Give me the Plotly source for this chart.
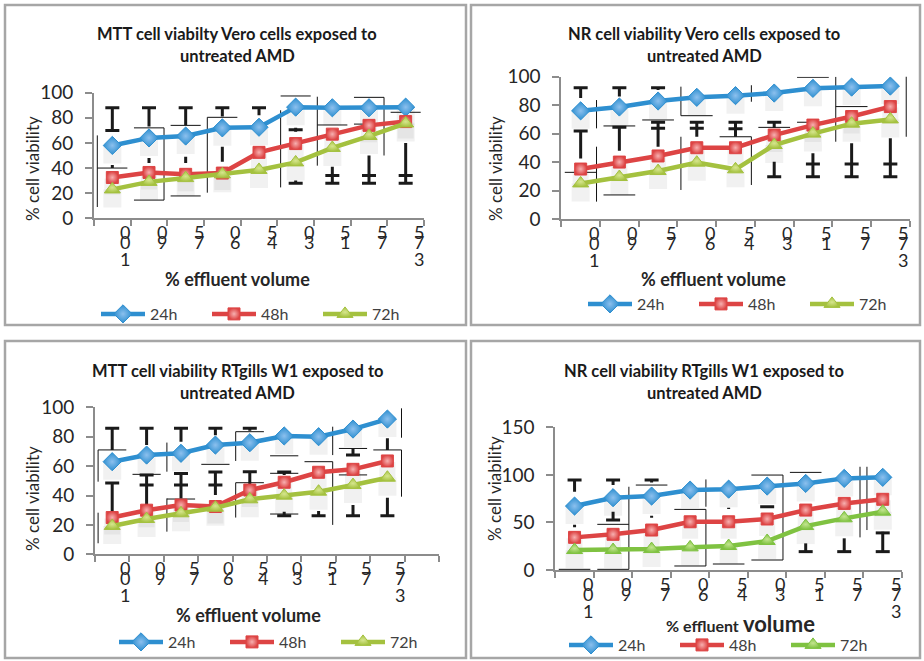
import plotly.graph_objects as go

W, H = 924, 661

# ---------------- data ----------------
x_labels = ["001", "09", "57", "06", "54", "03", "51", "57", "573"]
series_names = ["24h", "48h", "72h"]

titles = [
    ("MTT cell viabilty Vero cells exposed to", "untreated AMD"),
    ("NR cell viability Vero cells exposed to", "untreated AMD"),
    ("MTT cell viability RTgills W1 exposed to", "untreated AMD"),
    ("NR cell viability RTgills W1 exposed to", "untreated AMD"),
]
y_title = "% cell viability"
x_title = "% effluent volume"

mtt_vero_24 = [58, 64, 65.5, 72, 72.5, 88.5, 88, 88, 88.5]
mtt_vero_48 = [32.5, 36.5, 35, 36, 52.5, 59.5, 67, 74, 77]
mtt_vero_72 = [23, 29, 32, 35, 38.5, 44.5, 56, 65.5, 75.5]

nr_vero_24 = [76, 78.7, 82.9, 85.5, 86.7, 88.5, 91.8, 92.7, 93.4]
nr_vero_48 = [35.1, 40, 44.3, 50.1, 50.1, 59, 66, 72, 79]
nr_vero_72 = [25, 29.5, 33.7, 39.6, 34.9, 52, 60, 67, 70]

mtt_rt_24 = [63, 67.5, 68.7, 74.3, 75.9, 80.5, 80, 85.2, 92]
mtt_rt_48 = [25, 30, 33.5, 32.5, 43.7, 49, 55.8, 57.8, 63.5]
mtt_rt_72 = [19.3, 24, 27.9, 31.7, 37.4, 39.9, 42.6, 47.1, 52.1]

nr_rt_24 = [67.2, 76, 77.7, 84, 85, 88.2, 91, 96.3, 97.4]
nr_rt_48 = [34.3, 37.5, 42, 50.7, 50.7, 53.6, 63, 70, 74.3]
nr_rt_72 = [21, 21, 22, 23.8, 25.2, 30.5, 46.2, 54.3, 61.3]

# error bars as drawn (category, low, high) and their caps (category, value)
mtt_vero_bars = [(0, 70, 88), (0, 40, 42.5), (1, 73, 88), (1, 44, 48), (2, 74, 88), (2, 44, 49),
                 (3, 81, 88), (3, 45, 57), (4, 82, 88), (5, 69, 72), (5, 28, 30),
                 (6, 28, 41), (7, 28, 50), (8, 28, 60)]
mtt_vero_caps = [(0, 88), (0, 70), (1, 88), (2, 88), (3, 88), (4, 88), (5, 70.5), (5, 28),
                 (6, 34), (6, 28), (7, 34), (7, 28), (8, 34), (8, 28)]
mtt_vero_thin_h = [(0, 40), (1, 72), (1, 14.5), (2, 74), (2, 17.8), (3, 80.4), (5, 97.4),
                   (6, 74.3), (7, 96.3), (7, 75), (8, 84.4)]
mtt_vero_thin_v = [(0, -1, 9, 66), (1, 1, 14.5, 72), (3, -1, 20.4, 80.4), (5, -1, 24.6, 86),
                   (6, -1, 41.9, 96.8), (7, 1, 50, 96.3)]

nr_vero_bars = [(0, 85, 92.3), (0, 42.6, 61.8), (1, 86, 92.3), (1, 48, 64.5), (2, 90.6, 92.3),
                (2, 50.8, 68), (3, 57.8, 68), (4, 57.8, 68.4), (5, 64, 68), (5, 29.7, 40.3),
                (6, 29.7, 46.2), (7, 29.7, 53.2), (8, 29.7, 56.7)]
nr_vero_caps = [(0, 92.3), (0, 61.8), (1, 92.3), (1, 64.5), (2, 92.3), (2, 68), (2, 63.7),
                (3, 68), (3, 63.7), (4, 68), (4, 63.5), (5, 68), (5, 29.7),
                (6, 38.6), (6, 29.7), (7, 38.6), (7, 29.7), (8, 38.6), (8, 29.7)]
nr_vero_thin_h = [(0, 32.8), (1, 65.4), (1, 16.9), (2, 69.6), (3, 72.6), (4, 57.8), (5, 64.4),
                  (6, 99.6), (6, 68), (7, 79)]
nr_vero_thin_v = [(0, 1, 63.7, 83.6), (0, 1, 12.2, 50.8), (3, -1, 72.6, 93), (3, -1, 20.4, 57.8),
                  (4, 1, 82.4, 94), (4, 1, 23.9, 57.8), (7, -1, 54.3, 100), (8, 1, 57.8, 100.5)]

mtt_rt_bars = [(0, 71, 85.7), (0, 28, 48.5), (1, 74.4, 85.7), (1, 33.5, 54), (2, 76.6, 85.7),
               (2, 38, 55), (3, 81, 85.7), (3, 40.3, 56), (4, 84, 85.7), (4, 47.1, 56.2),
               (5, 54, 56.5), (5, 26.3, 29), (6, 26.3, 29.5), (7, 67.5, 72), (7, 26.3, 33.5),
               (8, 71, 79), (8, 26.3, 38.5)]
mtt_rt_caps = [(0, 85.7), (0, 48.5), (1, 85.7), (1, 54), (1, 47.1), (2, 85.7), (2, 55), (2, 47.1),
               (3, 85.7), (3, 56), (3, 47.1), (4, 85.7), (4, 56.2), (5, 56), (5, 26.3),
               (6, 26.3), (7, 67.5), (7, 26.3), (8, 26.3)]
mtt_rt_thin_h = [(0, 71), (1, 54.4), (2, 37.6), (3, 61.2), (4, 83.4), (4, 48.7), (5, 67),
                 (5, 55.1), (5, 27.4), (6, 63), (7, 72), (7, 54), (8, 71)]
mtt_rt_thin_v = [(0, -1, 49.4, 71), (0, -1, 7.5, 28.3), (2, -1, 56.2, 76), (2, -1, 15.4, 38),
                 (4, -1, 63.5, 83.4), (4, -1, 25, 48.7), (6, 1, 67.5, 86.8), (6, 1, 20, 63),
                 (8, 1, 79.3, 99.3), (8, 1, 39.2, 71)]

nr_rt_bars = [(0, 82.2, 94.5), (0, 45, 47.5), (1, 89.3, 94.5), (1, 52.5, 61.3), (2, 92, 94.5),
              (2, 55, 57), (4, 64, 65.5), (6, 19.3, 28), (7, 19.3, 33.3), (8, 19.3, 40.2)]
nr_rt_caps = [(0, 94.5), (1, 94.5), (1, 52.5), (2, 94.5), (5, 66.5), (6, 19.3), (7, 19.3),
              (8, 39), (8, 19.3)]
nr_rt_thin_h = [(0, 0.7), (1, 0.7), (1, 48), (2, 89.3), (3, 63.7), (3, 4.2), (4, 6.3),
                (5, 99.8), (5, 10.5), (6, 102.6)]
nr_rt_thin_v = [(1, 1, 0.7, 87.5), (3, 1, 66.5, 95.2), (3, 1, 4.2, 63.7), (5, 1, 10.5, 99.8),
                (7, 1, 34.3, 108.5), (8, -1, 42, 108.5)]

# ---------------- layout / style ----------------
FONT = "Lato"
TXT = "#404040"
AX = "#8c8c8c"
BLUE, BLUE_L = "#2e8fd0", "#8cc0ee"
RED, RED_L = "#dd4444", "#f7b0b0"
GRN, GRN_L = "#a4c13f", "#d6e68e"
GRN4, GRN4_L = "#7fc241", "#c3e58f"
SHADOW = "rgba(170,170,170,0.16)"
SHADOW_DY = 9  # px

panels = [
    dict(series=[mtt_vero_24, mtt_vero_48, mtt_vero_72], bars=mtt_vero_bars, caps=mtt_vero_caps,
         th=mtt_vero_thin_h, tv=mtt_vero_thin_v,
         box=(94, 424, 92.7, 218.3), ymax=100, dtick=20, ncat=9, green=(GRN, GRN_L),
         border=(5, 466, 5, 325), tcx=237, ty=(34, 56), ytx=32, yty=169, xtx=237, xty=279,
         leg=(108, 314)),
    dict(series=[nr_vero_24, nr_vero_48, nr_vero_72], bars=nr_vero_bars, caps=nr_vero_caps,
         th=nr_vero_thin_h, tv=nr_vero_thin_v,
         box=(561.3, 909.7, 76.7, 219), ymax=100, dtick=20, ncat=9, green=(GRN, GRN_L),
         border=(471, 920, 5, 325), tcx=704, ty=(34, 56), ytx=495, yty=169, xtx=713, xty=279,
         leg=(595, 304)),
    dict(series=[mtt_rt_24, mtt_rt_48, mtt_rt_72], bars=mtt_rt_bars, caps=mtt_rt_caps,
         th=mtt_rt_thin_h, tv=mtt_rt_thin_v,
         box=(95, 439, 407.3, 554.3), ymax=100, dtick=20, ncat=10, green=(GRN, GRN_L),
         border=(5, 466, 341, 658), tcx=237, ty=(371, 393), ytx=32, yty=499, xtx=248, xty=615,
         leg=(126, 642)),
    dict(series=[nr_rt_24, nr_rt_48, nr_rt_72], bars=nr_rt_bars, caps=nr_rt_caps,
         th=nr_rt_thin_h, tv=nr_rt_thin_v,
         box=(555.3, 902, 427.3, 570), ymax=150, dtick=50, ncat=9, green=(GRN4, GRN4_L),
         border=(471, 920, 341, 658), tcx=704, ty=(371, 393), ytx=494, yty=489, xtx=742, xty=623,
         leg=(576, 645)),
]

fig = go.Figure()
annotations = []
shapes = []
HALF = 0.41

for i, p in enumerate(panels):
    n = i + 1
    # shadow subplot (drawn first, underneath) and main subplot
    sxa, sya = ("x", "y") if n == 1 else (f"x{n}", f"y{n}")
    xa, ya = f"x{n + 4}", f"y{n + 4}"
    legname = "legend" if n == 1 else f"legend{n}"
    x0, x1, y0, y1 = p["box"]
    cats = list(range(len(x_labels)))

    styles = [
        (BLUE, BLUE_L, "diamond", 14),
        (RED, RED_L, "square", 12),
        (p["green"][0], p["green"][1], "triangle-up", 14),
    ]

    # marker shadows
    for vals, (col, light, sym, sz) in zip(p["series"], styles):
        fig.add_trace(go.Scatter(x=cats, y=vals, mode="markers",
                                 marker=dict(symbol="square", size=sz + 4, color=SHADOW),
                                 xaxis=sxa, yaxis=sya, showlegend=False, hoverinfo="skip"))

    # thin lines
    tx, ty = [], []
    for c, v in p["th"]:
        tx += [c - HALF, c + HALF, None]
        ty += [v, v, None]
    for c, side, lo, hi in p["tv"]:
        tx += [c + side * HALF, c + side * HALF, None]
        ty += [lo, hi, None]
    fig.add_trace(go.Scatter(x=tx, y=ty, mode="lines", line=dict(color="#111111", width=1),
                             xaxis=xa, yaxis=ya, showlegend=False, hoverinfo="skip",
                             cliponaxis=False))
    # thick error bars
    bx, by = [], []
    for c, lo, hi in p["bars"]:
        bx += [c, c, None]
        by += [lo, hi, None]
    fig.add_trace(go.Scatter(x=bx, y=by, mode="lines", line=dict(color="#1a1a1a", width=3),
                             xaxis=xa, yaxis=ya, showlegend=False, hoverinfo="skip"))
    fig.add_trace(go.Scatter(x=[c for c, v in p["caps"]], y=[v for c, v in p["caps"]],
                             mode="markers",
                             marker=dict(symbol="line-ew", size=10,
                                         line=dict(color="#1a1a1a", width=3)),
                             xaxis=xa, yaxis=ya, showlegend=False, hoverinfo="skip"))

    for name, vals, (col, light, sym, sz) in zip(series_names, p["series"], styles):
        fig.add_trace(go.Scatter(
            x=cats, y=vals, name=name, mode="lines+markers",
            line=dict(color=col, width=4.5),
            marker=dict(symbol=sym, size=sz, color=col,
                        gradient=dict(type="radial", color=light),
                        line=dict(color=col, width=1)),
            xaxis=xa, yaxis=ya, legend=legname, showlegend=True))

    xr = [-0.5, p["ncat"] - 0.5]
    fig.layout[f"xaxis{n + 4}"] = dict(
        domain=[x0 / W, x1 / W], range=xr, anchor=ya,
        tickvals=[k - 0.5 for k in range(p["ncat"] + 1)], ticks="outside", ticklen=6,
        tickwidth=2, tickcolor=AX, showticklabels=False, showgrid=False, zeroline=False,
        showline=True, linecolor=AX, linewidth=2, fixedrange=True)
    fig.layout[f"yaxis{n + 4}"] = dict(
        domain=[1 - y1 / H, 1 - y0 / H], range=[0, p["ymax"]], dtick=p["dtick"], anchor=xa,
        ticks="outside", ticklen=7, tickwidth=2, tickcolor=AX, showgrid=False, zeroline=False,
        showline=True, linecolor=AX, linewidth=2, ticklabelstandoff=8,
        tickfont=dict(family=FONT, size=19, color="#262626"), fixedrange=True)
    fig.layout[f"xaxis{'' if n == 1 else n}"] = dict(
        domain=[x0 / W, x1 / W], range=xr, anchor=sya, visible=False, fixedrange=True)
    fig.layout[f"yaxis{'' if n == 1 else n}"] = dict(
        domain=[1 - (y1 + SHADOW_DY) / H, 1 - (y0 + SHADOW_DY) / H], range=[0, p["ymax"]],
        anchor=sxa, visible=False, fixedrange=True)

    # category labels (stacked characters)
    row_off = [14, 24, 41]
    for k, lab in enumerate(x_labels):
        for r, ch in enumerate(lab):
            annotations.append(dict(x=k, y=0, xref=xa, yref=ya, text=ch, showarrow=False,
                                    xshift=13, yshift=-row_off[r], xanchor="center",
                                    yanchor="middle",
                                    font=dict(family=FONT, size=18, color="#262626")))

    # titles
    for line, yy in zip(titles[i], p["ty"]):
        annotations.append(dict(x=p["tcx"] / W, y=1 - yy / H, xref="paper", yref="paper",
                                text=f"<b>{line}</b>", showarrow=False, xanchor="center",
                                yanchor="middle",
                                font=dict(family=FONT, size=16.5, color="#1a1a1a")))
    annotations.append(dict(x=p["ytx"] / W, y=1 - p["yty"] / H, xref="paper", yref="paper",
                            text=y_title, textangle=-90, showarrow=False, xanchor="center",
                            yanchor="middle",
                            font=dict(family=FONT, size=17, color="#262626")))
    if n == 4:
        annotations.append(dict(x=664 / W, y=1 - p["xty"] / H, xref="paper", yref="paper",
                                text="<b>% effluent</b> <b><span style='font-size:22px'>volume</span></b>",
                                showarrow=False, xanchor="left", yanchor="middle",
                                font=dict(family=FONT, size=16, color="#262626")))
    else:
        annotations.append(dict(x=p["xtx"] / W, y=1 - p["xty"] / H, xref="paper", yref="paper",
                                text=f"<b>{x_title}</b>", showarrow=False, xanchor="center",
                                yanchor="middle",
                                font=dict(family=FONT, size=18, color="#262626")))

    bx0, bx1, by0, by1 = p["border"]
    shapes.append(dict(type="rect", xref="paper", yref="paper", x0=bx0 / W, x1=bx1 / W,
                       y0=1 - by1 / H, y1=1 - by0 / H, line=dict(color="#a6a6a6", width=2.5)))

    lx, ly = p["leg"]
    fig.layout[legname] = dict(orientation="h", x=(lx - 12) / W, y=1 - ly / H, xanchor="left",
                               yanchor="middle", font=dict(family=FONT, size=16, color=TXT),
                               bgcolor="rgba(0,0,0,0)", itemwidth=44, entrywidth=52,
                               entrywidthmode="pixels", itemclick=False, itemdoubleclick=False)

fig.update_layout(width=W, height=H,
                  margin=dict(l=0, r=0, t=0, b=0, pad=0, autoexpand=False),
                  paper_bgcolor="white", plot_bgcolor="rgba(0,0,0,0)",
                  annotations=annotations, shapes=shapes,
                  font=dict(family=FONT, color=TXT))
fig.write_html("out.html", config={"displayModeBar": False},
               post_script="document.body.style.margin='0';document.body.style.overflow='hidden';")
